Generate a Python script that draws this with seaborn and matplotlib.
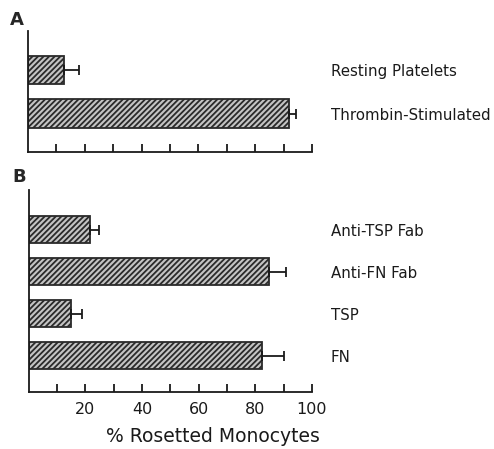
import matplotlib
matplotlib.use("Agg")
import matplotlib.pyplot as plt
import seaborn as sns
import numpy as np
import pandas as pd

# ---- data ----
cats_a = ["Resting Platelets", "Thrombin-Stimulated"]
vals_a = [12.5, 92.0]
errs_a = [5.5, 2.2]

cats_b = ["Anti-TSP Fab", "Anti-FN Fab", "TSP", "FN"]
vals_b = [21.7, 84.7, 14.9, 82.4]
errs_b = [3.0, 6.3, 4.0, 7.7]

xtick_vals = [10, 20, 30, 40, 50, 60, 70, 80, 90, 100]
xtick_labels = ["", "20", "", "40", "", "60", "", "80", "", "100"]
xlabel = "% Rosetted Monocytes"

sns.set_style("white")
plt.rcParams["font.family"] = ["DejaVu Sans"]
plt.rcParams["hatch.linewidth"] = 1.3

W, H = 494, 449
fig = plt.figure(figsize=(W / 100, H / 100), dpi=100)
fig.patch.set_facecolor("white")

def px_axes(left, top, right, bottom):
    return fig.add_axes([left / W, 1 - bottom / H, (right - left) / W, (bottom - top) / H])

axA = px_axes(28, 31, 312, 151.7)
axB = px_axes(28.5, 190, 312, 392.3)

def draw(ax, cats, vals, errs, ylim, labels):
    df = pd.DataFrame({"cat": cats, "val": vals})
    sns.barplot(data=df, x="val", y="cat", orient="h", ax=ax, color="#c4c4c4",
                width=0.65, edgecolor="#2a2a2a", linewidth=1.3, hatch="//////",
                saturation=1)
    ypos = np.arange(len(cats))
    ax.errorbar(vals, ypos, xerr=[np.zeros(len(vals)), errs], fmt="none",
                ecolor="#1a1a1a", elinewidth=1.3, capsize=3.3, capthick=1.3)
    ax.set_xlim(0, 100)
    ax.set_ylim(*ylim)
    ax.set_ylabel("")
    ax.set_xlabel("")
    for s in ["top", "right"]:
        ax.spines[s].set_visible(False)
    for s in ["left", "bottom"]:
        ax.spines[s].set_linewidth(1.3)
        ax.spines[s].set_color("#1a1a1a")
    ax.tick_params(axis="y", left=False, right=False, labelleft=False,
                   labelright=True, pad=10, labelsize=10.8, colors="#1a1a1a")
    ax.set_xticks(xtick_vals)
    if labels:
        ax.set_xticklabels(xtick_labels)
    else:
        ax.set_xticklabels([""] * len(xtick_vals))
    ax.tick_params(axis="x", direction="in", length=6, width=1.3, bottom=True,
                   labelsize=11.5, pad=7, colors="#1a1a1a")
    ax.set_facecolor("none")

draw(axA, cats_a, vals_a, errs_a, (1.87, -0.89), False)
draw(axB, cats_b, vals_b, errs_b, (3.87, -0.94), True)
axB.set_xlabel(xlabel, fontsize=13.5, color="#1a1a1a", va="center")
axB.xaxis.set_label_coords(0.65, -0.217)

fig.text(10 / W, 1 - 20 / H, "A", fontsize=13, fontweight="bold", ha="left", va="center")
fig.text(12 / W, 1 - 177 / H, "B", fontsize=13, fontweight="bold", ha="left", va="center")

fig.savefig("out.png", dpi=100)
